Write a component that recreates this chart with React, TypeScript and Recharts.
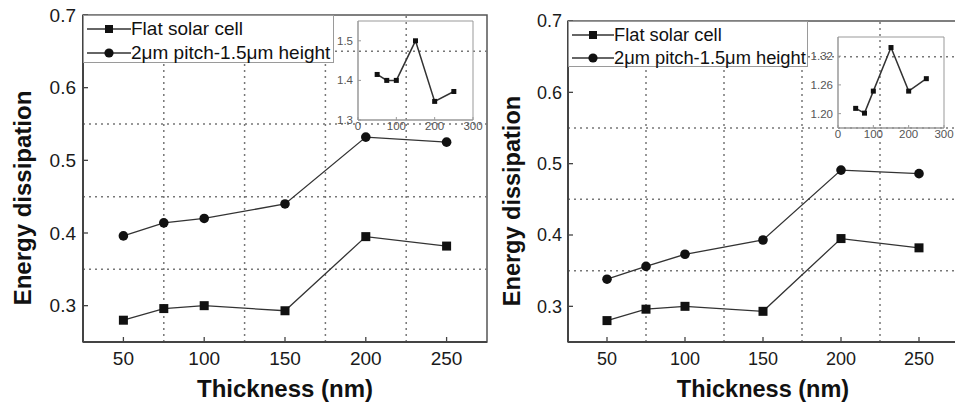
import React from 'react';
import { LineChart, Line, XAxis, YAxis, ReferenceLine, ReferenceArea, Legend } from 'recharts';

const thickness = [50, 75, 100, 150, 200, 250];
const flatLeft = [0.28, 0.296, 0.3, 0.293, 0.395, 0.382];
const pitchLeft = [0.396, 0.414, 0.42, 0.44, 0.532, 0.525];
const flatRight = [0.28, 0.296, 0.3, 0.293, 0.395, 0.382];
const pitchRight = [0.338, 0.356, 0.373, 0.393, 0.491, 0.486];
const insetLeftValues = [1.415, 1.4, 1.4, 1.5, 1.347, 1.372];
const insetRightValues = [1.211, 1.201, 1.247, 1.338, 1.247, 1.273];

const xTicks = [50, 100, 150, 200, 250];
const yTicks = [0.3, 0.4, 0.5, 0.6, 0.7];
const gridX = [75, 125, 175, 225];
const gridY = [0.35, 0.45, 0.55, 0.65];
const insetXTicks = [0, 100, 200, 300];
const insetLeftYTicks = [1.3, 1.4, 1.5];
const insetRightYTicks = [1.2, 1.26, 1.32];
const seriesNames = ['Flat solar cell', '2\u03bcm pitch-1.5\u03bcm height'];
const xTitle = 'Thickness (nm)';
const yTitle = 'Energy dissipation';

const FONT = '"Liberation Sans", Arial, sans-serif';

const Square = (size: number, color: string) => (p: any) => (
  <rect key={`sq-${p.index}`} x={p.cx - size / 2} y={p.cy - size / 2} width={size} height={size} fill={color} />
);
const Circle = (r: number, color: string) => (p: any) => (
  <circle key={`ci-${p.index}`} cx={p.cx} cy={p.cy} r={r} fill={color} />
);

type LegendCfg = { left: number; top: number; width: number; height: number; fontSize: number; lineW: number; rowH: number };

type PanelProps = {
  left: number;
  top: number;
  width: number;
  height: number;
  margin: { top: number; right: number; left: number; bottom: number };
  flat: number[];
  pitch: number[];
  fontSize: number;
  yTickMargin: number;
  xTickMargin: number;
  legend: LegendCfg;
};

const LegendBox = (cfg: LegendCfg) => (props: any) => {
  const payload = (props.payload || []) as any[];
  const byName = (name: string) => payload.find((e: any) => e.value === name);
  return (
    <div
      style={{
        width: cfg.width,
        height: cfg.height,
        boxSizing: 'border-box',
        border: '1px solid #9a9a9a',
        background: '#fff',
        fontFamily: FONT,
        fontSize: cfg.fontSize,
        color: '#111',
        paddingTop: 1,
      }}
    >
      {seriesNames.map((name, i) => {
        const e = byName(name);
        return (
          <div key={i} style={{ display: 'flex', alignItems: 'center', height: cfg.rowH, whiteSpace: 'nowrap' }}>
            <svg width={cfg.lineW} height={14} style={{ marginLeft: 3, flex: 'none' }}>
              <line x1={0} y1={7} x2={cfg.lineW} y2={7} stroke="#333" strokeWidth={1.3} />
              {i === 0 ? (
                <rect x={cfg.lineW / 2 - 4} y={3} width={8} height={8} fill="#111" />
              ) : (
                <circle cx={cfg.lineW / 2} cy={7} r={4.6} fill="#111" />
              )}
            </svg>
            <span>{e ? e.value : name}</span>
          </div>
        );
      })}
    </div>
  );
};

const Panel = (p: PanelProps) => {
  const data = thickness.map((t, i) => ({ t, flat: p.flat[i], pitch: p.pitch[i] }));
  const tickStyle = { fontSize: p.fontSize, fill: '#1a1a1a', fontFamily: FONT };
  return (
    <div style={{ position: 'absolute', left: p.left, top: p.top }}>
      <LineChart width={p.width} height={p.height} data={data} margin={p.margin}>
        <XAxis
          dataKey="t"
          type="number"
          domain={[25, 275]}
          ticks={xTicks}
          height={30}
          tickSize={-5}
          tickMargin={p.xTickMargin}
          tick={tickStyle}
          axisLine={{ stroke: '#444', strokeWidth: 2 }}
          tickLine={{ stroke: '#444', strokeWidth: 1.3 }}
        />
        <YAxis
          type="number"
          domain={[0.25, 0.7]}
          ticks={yTicks}
          width={45}
          tickSize={-5}
          tickMargin={p.yTickMargin}
          tick={tickStyle}
          tickFormatter={(v: number) => v.toFixed(1)}
          axisLine={{ stroke: '#444', strokeWidth: 2 }}
          tickLine={{ stroke: '#444', strokeWidth: 1.3 }}
        />
        {gridX.map((g) => (
          <ReferenceLine key={`gx${g}`} x={g} stroke="#777" strokeWidth={1.5} strokeDasharray="2 4" />
        ))}
        {gridY.map((g) => (
          <ReferenceLine key={`gy${g}`} y={g} stroke="#777" strokeWidth={1.5} strokeDasharray="2 4" />
        ))}
        <ReferenceArea x1={25} x2={275} y1={0.25} y2={0.7} fill="none" stroke="#555" strokeWidth={1.5} ifOverflow="visible" />
        <Line
          dataKey="flat"
          name={seriesNames[0]}
          stroke="#333"
          strokeWidth={1.3}
          dot={Square(9, '#111')}
          isAnimationActive={false}
        />
        <Line
          dataKey="pitch"
          name={seriesNames[1]}
          stroke="#333"
          strokeWidth={1.3}
          dot={Circle(4.8, '#111')}
          isAnimationActive={false}
        />
        <Legend
          layout="vertical"
          align="center"
          verticalAlign="middle"
          content={LegendBox(p.legend)}
          wrapperStyle={{ left: p.legend.left, top: p.legend.top, width: p.legend.width, height: p.legend.height }}
        />
      </LineChart>
    </div>
  );
};

type InsetProps = {
  left: number;
  top: number;
  plotW: number;
  plotH: number;
  values: number[];
  domain: [number, number];
  yTicks: number[];
  digits: number;
};

const Inset = (p: InsetProps) => {
  const data = thickness.map((t, i) => ({ t, v: p.values[i] }));
  const yW = 30;
  const xH = 16;
  const margin = { top: 2, right: 14, left: 0, bottom: 4 };
  const tickStyle = { fontSize: 11.5, fill: '#555', fontFamily: FONT };
  return (
    <div style={{ position: 'absolute', left: p.left - yW, top: p.top - margin.top }}>
      <LineChart
        width={yW + p.plotW + margin.right}
        height={margin.top + p.plotH + xH + margin.bottom}
        data={data}
        margin={margin}
      >
        <XAxis
          dataKey="t"
          type="number"
          domain={[0, 300]}
          ticks={insetXTicks}
          height={xH}
          tickSize={-3}
          tickMargin={5}
          tick={tickStyle}
          axisLine={{ stroke: '#999' }}
          tickLine={{ stroke: '#999' }}
        />
        <YAxis
          type="number"
          domain={p.domain}
          ticks={p.yTicks}
          width={yW}
          tickSize={-3}
          tickMargin={8}
          tick={tickStyle}
          tickFormatter={(v: number) => v.toFixed(p.digits)}
          axisLine={{ stroke: '#999' }}
          tickLine={{ stroke: '#999' }}
        />
        <ReferenceArea x1={0} x2={300} y1={p.domain[0]} y2={p.domain[1]} fill="none" stroke="#999" strokeWidth={1} ifOverflow="visible" />
        <Line dataKey="v" stroke="#333" strokeWidth={1.5} dot={Square(5, '#111')} isAnimationActive={false} />
      </LineChart>
    </div>
  );
};

const titleStyle: React.CSSProperties = {
  position: 'absolute',
  fontFamily: FONT,
  fontWeight: 'bold',
  fontSize: 24,
  color: '#111',
  whiteSpace: 'nowrap',
  lineHeight: 1,
};

export default function App() {
  return (
    <div style={{ position: 'absolute', left: 0, top: 0, width: 955, height: 404, overflow: 'hidden', background: '#fff' }}>
      <Panel
        left={0}
        top={0}
        width={490}
        height={404}
        margin={{ top: 15, right: 3, left: 38, bottom: 32 }}
        flat={flatLeft}
        pitch={pitchLeft}
        fontSize={19}
        yTickMargin={12}
        xTickMargin={15}
        legend={{ left: 83, top: 15, width: 251, height: 48, fontSize: 19, lineW: 44, rowH: 24 }}
      />
      <Panel
        left={480}
        top={0}
        width={480}
        height={404}
        margin={{ top: 21, right: 2, left: 43, bottom: 32 }}
        flat={flatRight}
        pitch={pitchRight}
        fontSize={18}
        yTickMargin={11}
        xTickMargin={15}
        legend={{ left: 88, top: 21, width: 240, height: 46, fontSize: 18.3, lineW: 42, rowH: 23 }}
      />
      <Inset left={358} top={21} plotW={115} plotH={99} values={insetLeftValues} domain={[1.3, 1.55]} yTicks={insetLeftYTicks} digits={1} />
      <Inset left={838} top={37} plotW={106} plotH={91} values={insetRightValues} domain={[1.17, 1.36]} yTicks={insetRightYTicks} digits={2} />

      <div style={{ ...titleStyle, left: 23, top: 198, transform: 'translate(-50%, -50%) rotate(-90deg)' }}>{yTitle}</div>
      <div style={{ ...titleStyle, left: 285, top: 389, transform: 'translate(-50%, -50%)' }}>{xTitle}</div>
      <div style={{ ...titleStyle, left: 513, top: 201, fontSize: 23.5, transform: 'translate(-50%, -50%) rotate(-90deg)' }}>{yTitle}</div>
      <div style={{ ...titleStyle, left: 763, top: 390, fontSize: 23.5, transform: 'translate(-50%, -50%)' }}>{xTitle}</div>
    </div>
  );
}
